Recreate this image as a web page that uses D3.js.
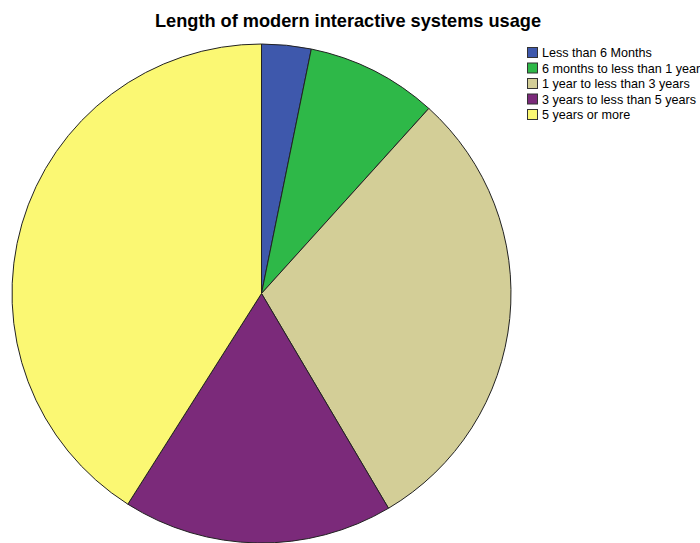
<!DOCTYPE html>
<html><head><meta charset="utf-8">
<script src="https://cdn.jsdelivr.net/npm/d3@7"></script>
<style>body{margin:0;background:#fff}svg{display:block}</style>
</head><body>
<svg id="c" width="700" height="543"></svg>
<script>
const categories = ["Less than 6 Months","6 months to less than 1 year","1 year to less than 3 years","3 years to less than 5 years","5 years or more"];
const values = [3.2, 8.5, 29.8, 17.5, 41.0];
const colors = ["#3e58ac","#2eb848","#d3ce97","#7b2a7a","#fbf873"];
const title = "Length of modern interactive systems usage";

const svg = d3.select("#c");
const cx = 261.5, cy = 293.5, r = 249.5;
const color = d3.scaleOrdinal().domain(categories).range(colors);
const pie = d3.pie().sort(null).value(d => d.v);
const arc = d3.arc().innerRadius(0).outerRadius(r);
const data = categories.map((c,i)=>({c, v: values[i]}));

svg.append("text").attr("x",348).attr("y",27).attr("text-anchor","middle")
  .attr("font-family","Liberation Sans, Arial, sans-serif").attr("font-weight","bold")
  .attr("font-size",18.2).attr("fill","#000").text(title);

const g = svg.append("g").attr("transform",`translate(${cx},${cy})`);
g.selectAll("path").data(pie(data)).join("path")
  .attr("d",arc).attr("fill",d=>color(d.data.c))
  .attr("stroke","#222").attr("stroke-width",1).attr("stroke-linejoin","round");

const lg = svg.append("g").attr("transform","translate(527,47)");
const items = lg.selectAll("g").data(categories).join("g")
  .attr("transform",(d,i)=>`translate(0,${i*15.5})`);
items.append("rect").attr("x",0.5).attr("y",0.5).attr("width",10).attr("height",10)
  .attr("fill",d=>color(d)).attr("stroke","#333").attr("stroke-width",1);
items.append("text").attr("x",15).attr("y",10)
  .attr("font-family","Liberation Sans, Arial, sans-serif").attr("font-size",12.6)
  .attr("fill","#000").text(d=>d);
</script>
</body></html>
